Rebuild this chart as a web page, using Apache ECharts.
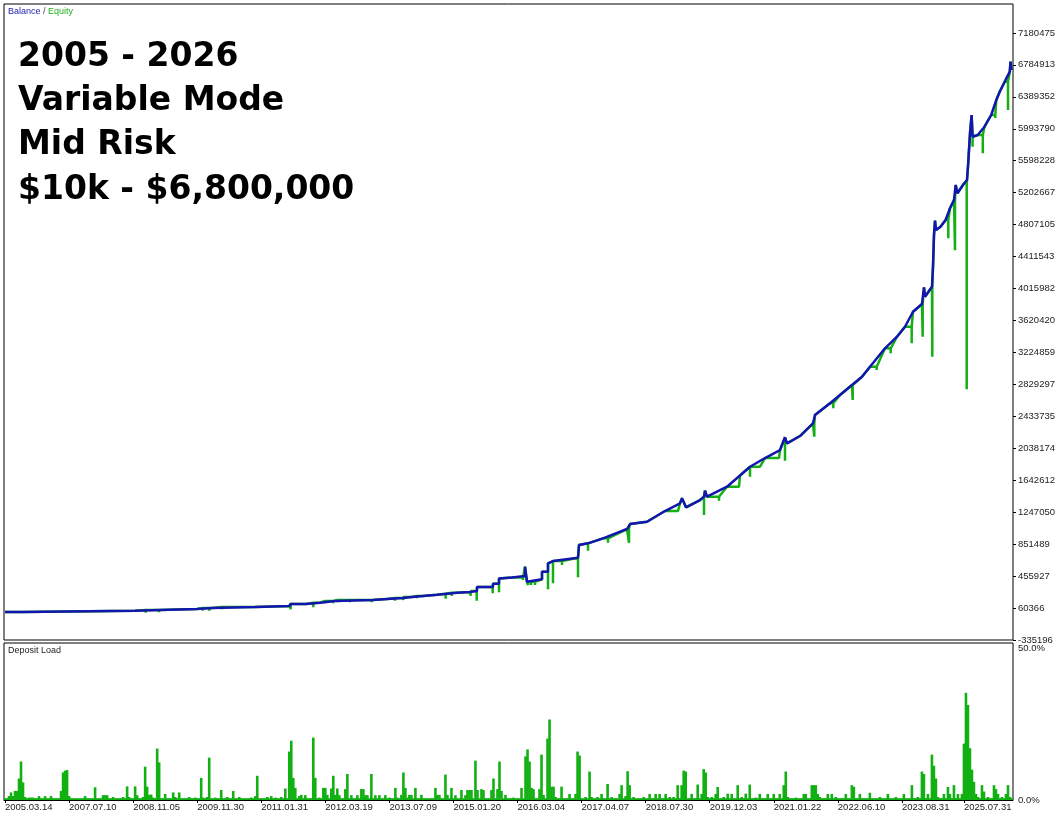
<!DOCTYPE html>
<html><head><meta charset="utf-8">
<script src="https://cdn.jsdelivr.net/npm/echarts@6/dist/echarts.min.js"></script>
<style>html,body{margin:0;padding:0;background:#fff}#c{width:1058px;height:816px}</style>
</head><body><div id="c"></div>
<script>
// Balance curve: [trade index, balance $]
const balance = [
[0,10000],[17,10000],[17,27000],[130,27000],[130,35600],[155,35600],[155,48000],[192,48000],[192,60400],[207,60400],[207,72700],[250,72700],[250,85100],[285,85100],[285,110000],[301,110000],[301,126000],[315,126000],[315,147000],[330,147000],[330,159400],[368,159400],[368,171800],[382,171800],[382,184200],[398,184200],[398,196600],[407,196600],[407,209000],[418,209000],[418,225000],[432,225000],[432,237400],[442,237400],[442,249800],[452,249800],[452,258500],[465,258500],[465,270800],[472,270800],[472,320000],[488,320000],[488,361200],[494,361200],[494,425000],[507,440000],[520,456600],[520,571700],[522,386000],[537,415700],[537,509800],[543,509800],[543,613800],[548,642300],[573,683100],[574,840400],[583,861400],[598,923300],[622,1038500],[625,1100400],[642,1128900],[660,1261300],[675,1356700],[677,1418600],[681,1307100],[695,1397500],[699,1438400],[700,1512700],[702,1438400],[722,1562200],[735,1700800],[745,1809800],[760,1917500],[775,2016600],[780,2173800],[782,2099600],[795,2189900],[808,2347100],[810,2449900],[825,2594800],[835,2697500],[847,2821300],[857,2924100],[865,3047900],[880,3275700],[892,3419300],[900,3543100],[908,3728900],[917,3824200],[919,4030900],[920,3914700],[927,4038800],[928,4286400],[929,4678500],[930,4855500],[931,4740400],[935.5,4781300],[940.6,4864200],[945,5009100],[949,5111800],[950.7,5297500],[952.4,5194700],[959.2,5318500],[962,5359500],[963.2,5566200],[965,5937600],[966.6,6164200],[967.6,5895500],[972.7,5916500],[979.5,6019300],[986.2,6164200],[991.3,6349900],[994.7,6452700],[999.7,6576500],[1004.8,6700300],[1005.5,6824100],[1006.5,6721300]
];
// Equity drawdowns: [trade index, lowest equity $]
const equityDips = [
[140.7,2200],[154,7100],[197.7,27000],[204.3,27000],[216.7,44300],[285.7,44300],[308.3,69000],[320,118600],[328.3,118600],[332.7,131000],[345,131000],[366.7,131000],[390,150700],[398.3,159400],[411.7,180500],[440.7,175500],[446.7,209000],[465.7,212700],[471.7,150700],[487.7,242400],[494,254800],[518,407000],[523,345100],[526,345100],[530,345100],[543,291900],[548,366200],[557,592800],[573,440500],[583,769800],[603,868800],[624,868800],[673,1252600],[699,1211800],[714,1388900],[734,1554800],[745,1686000],[755,1790000],[774,1913800],[780,1884100],[809.3,2181300],[828.3,2532900],[847.7,2635700],[871.7,3007000],[885.7,3213800],[906.7,3337600],[917.7,3419300],[927.3,3171700],[943.3,4637600],[950,4491000],[961.7,2768000],[967.6,5771800],[977.8,5690000],[990.3,6128500],[1003,6226100]
];
// Deposit load (%) per slot
const depositLoad = [
.6,.6,1.3,2.5,1.3,3,3,7.1,12.7,5.8,1,.6,.8,.8,.8,.6,.6,1.3,.6,.6,1.3,.6,.6,1.3,
.6,.6,.6,.6,3,9.1,9.7,9.9,1.3,.6,.6,.6,.6,.6,.6,.6,1.3,.6,.6,.6,.6,4.2,.6,.6,
.6,1.6,1.6,1.6,.6,.6,1,.6,.6,.6,.6,1,.6,4.5,1,.6,.6,4.5,1.6,.6,.6,1,11,4.4,
1.7,1.8,.8,.6,17,12.4,.6,.6,2,.6,.6,.6,2.5,1,.6,2.5,.6,.6,.6,.6,1,.6,.6,.8,
.6,.6,7.3,.8,.6,1,14,.6,.6,.8,.6,.6,3.3,.6,.6,1,.6,.6,3,.6,.6,1,.6,.6,
.6,.6,.6,.8,.6,1.3,8,.6,.6,.6,.6,1,.6,1.3,.6,.8,.6,.6,1,.6,3.8,.6,16,19.6,
7.3,4,.6,1.3,1.7,.6,1.6,.6,.6,.6,20.6,7.3,.6,.8,.6,4,4,1.7,.6,3.8,8,1.7,3.8,1.6,
.6,.6,3.6,8.6,.6,1.6,.6,.6,1.6,.6,3.6,3.6,1.6,1.6,.6,8.6,.6,1.6,.6,1.6,.6,.6,1.6,.6,
.8,.6,.6,4,.8,.6,1.7,9.1,4,.8,1.7,1.7,.6,4,.6,.6,1.7,.6,.6,.6,.6,.6,.6,4,
1.7,1.7,.6,.6,8.4,1.7,.6,4,.6,1.6,.6,.6,3.3,.6,1.6,3.3,3.3,3.3,.6,13,3.3,.6,3.6,3.3,
.6,.6,.6,3.3,7.1,.6,3.6,12.7,3,.6,1.7,.6,.6,.6,.8,.6,.6,.6,4,.6,14.4,16.7,12.7,4,
3.6,.6,.6,3.6,15,1.7,.6,20.3,26.6,4.4,4.4,1,.6,.6,4.4,.6,.6,.6,2,.6,.6,2,16,14.7,
.6,.6,1,.6,9.4,1,.6,.6,1,.6,2,.6,.6,5.3,.6,1,.6,.6,.6,2,4.9,.6,1.3,9.5,
4.9,.6,1,.6,.6,.6,.6,1,.6,.6,2,.6,.6,2,.6,2,.6,.6,2,.6,1,.6,1,.6,
4.9,.6,4.9,9.7,9.4,.6,.6,2,.6,.6,5.1,.6,2,10.2,9.1,1,.6,1,.6,2,4.3,.6,.6,1,
.6,2.1,.6,2,.6,.6,4.9,.6,1,.6,2.1,.6,5.1,.6,.6,.8,.6,2,.6,.6,.6,2,.6,.6,
2,.6,.6,2,.6,4.9,9.4,1,.6,.6,.6,.8,.6,.6,.6,2,2,.6,.6,4.9,4.9,4.9,2,1,
.6,.6,.6,2,.6,2,.6,1,.6,.6,.6,.6,2,.6,.6,4.9,4.4,.6,.6,2,.6,.6,.6,.6,
2.4,.6,.6,.6,.6,1,.6,.6,.6,2,.6,.6,.6,1,.6,.6,.6,2,.6,.6,.6,4.9,.6,.6,
1,.6,9.4,8.6,.6,2,.6,15,11.3,7.1,1,.6,.6,2,.6,4.3,2,.6,4.9,.6,2,.6,2,18.6,
35.4,31.4,17.1,10,6,2,1,.6,4.9,2.8,.6,1,.6,.6,4.9,3.6,2,.6,1,.6,2,4.9,1,.6
];
const dateLabels = ['2005.03.14','2007.07.10','2008.11.05','2009.11.30','2011.01.31','2012.03.19','2013.07.09','2015.01.20','2016.03.04','2017.04.07','2018.07.30','2019.12.03','2021.01.22','2022.06.10','2023.08.31','2025.07.31'];
const dateSlots = [0,32,64,96,128,160,192,224,256,288,320,352,384,416,448,479];
const balanceTicks = [-335196,60366,455927,851489,1247050,1642612,2038174,2433735,2829297,3224859,3620420,4015982,4411543,4807105,5202667,5598228,5993790,6389352,6784913,7180475];
const loadTicks = [0, 50];

// equity line = balance path with the drawdown excursions inserted
const equity = [];
let d = 0;
for (let i = 0; i < balance.length; i++) {
  equity.push(balance[i]);
  const nextX = i + 1 < balance.length ? balance[i + 1][0] : Infinity;
  while (d < equityDips.length && equityDips[d][0] >= balance[i][0] && equityDips[d][0] < nextX) {
    const top = balance[i][1];
    equity.push([equityDips[d][0], top], [equityDips[d][0], equityDips[d][1]], [equityDips[d][0], top]);
    d++;
  }
}

const BLUE = '#1414b0', GREEN = '#12b012', FONT = 'Liberation Sans';
const chart = echarts.init(document.getElementById('c'));
chart.setOption({
  animation: false,
  backgroundColor: '#fff',
  title: [
    {text: '2005 - 2026\nVariable Mode\nMid Risk\n$10k - $6,800,000', left: 18, top: 35, padding: 0,
     textStyle: {fontFamily: 'DejaVu Sans', fontWeight: 'bold', fontSize: 33, lineHeight: 44.3, color: '#000'}},
    {text: '{b|Balance} {s|/} {e|Equity}', left: 8, top: 7, padding: 0,
     textStyle: {fontSize: 9, fontFamily: FONT, fontWeight: 'normal', rich: {
       b: {color: '#2020b0', fontSize: 9, fontFamily: FONT},
       s: {color: '#444', fontSize: 9, fontFamily: FONT},
       e: {color: '#20b020', fontSize: 9, fontFamily: FONT}}}},
    {text: 'Deposit Load', left: 8, top: 646, padding: 0,
     textStyle: {fontSize: 9, fontFamily: FONT, fontWeight: 'normal', color: '#222'}}
  ],
  grid: [
    {left: 4, top: 4, width: 1009, height: 636, show: true, borderColor: '#000', borderWidth: 1, backgroundColor: '#fff'},
    {left: 4, top: 643, width: 1009, height: 157, show: true, borderColor: '#000', borderWidth: 1, backgroundColor: '#fff'}
  ],
  xAxis: [
    {type: 'value', gridIndex: 0, min: -1, max: 1008, show: false},
    {type: 'category', gridIndex: 1, data: depositLoad.map((_, i) => i), boundaryGap: true,
     axisLine: {show: true, onZero: false, lineStyle: {color: '#000', width: 1}},
     axisTick: {show: true, alignWithLabel: true, interval: (i) => dateSlots.includes(i), length: 3, lineStyle: {color: '#000'}},
     axisLabel: {interval: (i) => dateSlots.includes(i), formatter: (v, i) => dateLabels[dateSlots.indexOf(i)] || '',
       align: 'left', margin: 2, fontSize: 9.5, fontFamily: FONT, color: '#222'},
     splitLine: {show: false}}
  ],
  yAxis: [
    {type: 'value', gridIndex: 0, position: 'right', min: -335196, max: 7538300,
     splitLine: {show: false}, axisLine: {show: false, onZero: false},
     axisTick: {show: true, length: 3, customValues: balanceTicks, lineStyle: {color: '#000'}},
     axisLabel: {customValues: balanceTicks, margin: 5, fontSize: 9.5, fontFamily: FONT, color: '#222', formatter: v => String(v)}},
    {type: 'value', gridIndex: 1, position: 'right', min: 0, max: 51.85,
     splitLine: {show: false}, axisLine: {show: false, onZero: false}, axisTick: {show: false},
     axisLabel: {customValues: loadTicks, margin: 5, fontSize: 9.5, fontFamily: FONT, color: '#222', formatter: v => v.toFixed(1) + '%'}}
  ],
  series: [
    {type: 'line', name: 'Equity', xAxisIndex: 0, yAxisIndex: 0, data: equity, symbol: 'none', z: 2,
     lineStyle: {color: GREEN, width: 2.5}},
    {type: 'line', name: 'Balance', xAxisIndex: 0, yAxisIndex: 0, data: balance, symbol: 'none', z: 3,
     lineStyle: {color: BLUE, width: 2.5}},
    {type: 'bar', name: 'Deposit Load', xAxisIndex: 1, yAxisIndex: 1, data: depositLoad, barWidth: 2.6,
     itemStyle: {color: GREEN}}
  ]
});
</script></body></html>
